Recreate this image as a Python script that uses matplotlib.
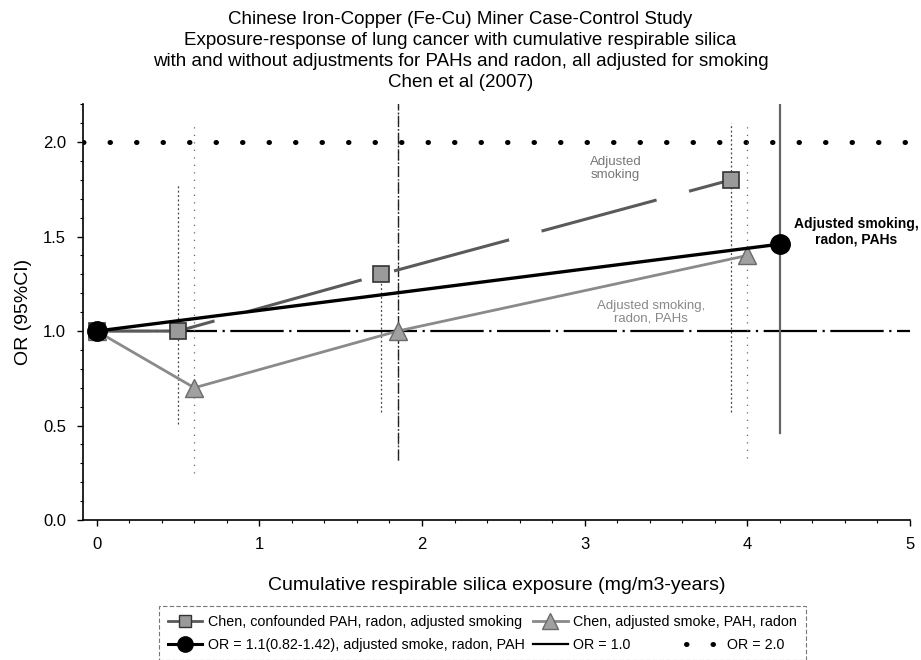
import matplotlib.pyplot as plt
from matplotlib.lines import Line2D
from matplotlib.ticker import MultipleLocator

plt.rcParams['font.family'] = ['Liberation Sans', 'DejaVu Sans']

# Chen, confounded PAH, radon, adjusted smoking
conf_x = [0, 0.5, 1.75, 3.9]
conf_y = [1.0, 1.0, 1.3, 1.8]
conf_lo = [None, 0.51, 0.57, 0.57]
conf_hi = [None, 1.78, 1.3, 2.1]

# Chen, adjusted smoke, PAH, radon
adj_x = [0, 0.6, 1.85, 4.0]
adj_y = [1.0, 0.7, 1.0, 1.4]
adj_lo = [None, 0.25, 0.32, 0.33]
adj_hi = [None, 2.1, 2.4, 2.1]

# OR = 1.1 (0.82-1.42), adjusted smoke, radon, PAH
or_x = [0, 4.2]
or_y = [1.0, 1.46]
or_lo = [None, 0.46]
or_hi = [None, 2.4]

title = ("Chinese Iron-Copper (Fe-Cu) Miner Case-Control Study\n"
         "Exposure-response of lung cancer with cumulative respirable silica\n"
         "with and without adjustments for PAHs and radon, all adjusted for smoking\n"
         "Chen et al (2007)")

fig = plt.figure(figsize=(9.21, 6.6), dpi=100)
ax = fig.add_axes([0.090, 0.212, 0.898, 0.630])
ax.set_xlim(-0.085, 5.0)
ax.set_ylim(0, 2.2)

# reference lines
ax.plot([-0.085, 5.0], [2.0, 2.0], color='black', lw=3.6,
        linestyle=(0, (0.1, 5.2)), dash_capstyle='round', zorder=2)
ax.plot([0, 5.0], [1.0, 1.0], color='black', lw=1.6,
        linestyle=(0, (24, 2.5, 1, 2.5)), zorder=2)

# confidence intervals
def ci(xs, lo, hi, **kw):
    for x, l, h in zip(xs, lo, hi):
        if l is not None:
            ax.plot([x, x], [l, h], **kw)

ci(conf_x, conf_lo, conf_hi, color='#444444', lw=0.9, linestyle=(0, (1.5, 2)))
ci(adj_x, adj_lo, adj_hi, color='#666666', lw=0.9, linestyle=(0, (1, 5)))
ax.plot([adj_x[2]] * 2, [adj_lo[2], adj_hi[2]], color='#222222', lw=1.0,
        linestyle=(0, (8, 1.5, 1, 1.5)))
ci(or_x, or_lo, or_hi, color='#666666', lw=1.6)

# series
ax.plot(conf_x, conf_y, color='#5a5a5a', lw=2.2, linestyle=(0, (39, 11)),
        marker='s', ms=11, mfc='#9a9a9a', mec='#333333', mew=1.2, zorder=4)
ax.plot(adj_x, adj_y, color='#8a8a8a', lw=2.0, marker='^', ms=13,
        mfc='#a0a0a0', mec='#6a6a6a', zorder=4)
ax.plot(or_x, or_y, color='black', lw=2.4, marker='o', ms=14,
        mfc='black', mec='black', zorder=5)

# annotations
ax.text(3.19, 1.86, "Adjusted\nsmoking", color='#777777', fontsize=9.5,
        ha='center', va='center', linespacing=1.1)
ax.text(3.41, 1.10, "Adjusted smoking,\nradon, PAHs", color='#888888',
        fontsize=9.5, ha='center', va='center', linespacing=1.1)
ax.text(4.67, 1.525, "Adjusted smoking,\nradon, PAHs", color='black',
        fontsize=10, fontweight='bold', ha='center', va='center',
        linespacing=1.1, clip_on=False)

fig.text(0.5, 1 - 11 / 660, title, fontsize=13.5, linespacing=1.32,
         ha='center', va='top')
ax.set_xlabel("Cumulative respirable silica exposure (mg/m3-years)",
              fontsize=14, labelpad=18)
ax.set_ylabel("OR (95%CI)", fontsize=14, labelpad=8)

ax.set_xticks([0, 1, 2, 3, 4, 5])
ax.set_yticks([0.0, 0.5, 1.0, 1.5, 2.0])
ax.set_yticklabels(['0.0', '0.5', '1.0', '1.5', '2.0'])
ax.xaxis.set_minor_locator(MultipleLocator(0.2))
ax.yaxis.set_minor_locator(MultipleLocator(0.1))
ax.tick_params(which='major', direction='out', length=4, width=1,
               labelsize=12, pad=8)
ax.tick_params(which='minor', direction='out', length=2.5, width=0.8)
for s in ['top', 'right']:
    ax.spines[s].set_visible(False)
for s in ['left', 'bottom']:
    ax.spines[s].set_linewidth(1.2)

handles = [
    Line2D([], [], color='#5a5a5a', lw=2.0, marker='s', ms=9,
           mfc='#9a9a9a', mec='#333333'),
    Line2D([], [], color='black', lw=2.2, marker='o', ms=11, mfc='black'),
    Line2D([], [], color='#8a8a8a', lw=2.0, marker='^', ms=11,
           mfc='#a0a0a0', mec='#6a6a6a'),
    Line2D([], [], color='black', lw=1.6),
]
labels = [
    "Chen, confounded PAH, radon, adjusted smoking",
    "OR = 1.1(0.82-1.42), adjusted smoke, radon, PAH",
    "Chen, adjusted smoke, PAH, radon",
    "OR = 1.0",
]
leg = fig.legend(handles, labels, loc='upper left',
                 bbox_to_anchor=(0.165, 0.092), ncol=2, fontsize=10.3,
                 frameon=True, fancybox=False, handlelength=2.4,
                 columnspacing=0.6, handletextpad=0.4, borderpad=0.6,
                 labelspacing=0.6)
frame = leg.get_frame()
frame.set_edgecolor('#555555')
frame.set_linestyle((0, (4, 2)))
frame.set_linewidth(0.8)

# OR = 2.0 entry sits after "OR = 1.0" on the second row
fig.canvas.draw()
bb = leg.get_texts()[3].get_window_extent()
W, H = fig.bbox.width, fig.bbox.height
dot_handle = Line2D([], [], color='black', lw=3.6, linestyle=(0, (0.1, 5.2)),
                    dash_capstyle='round')
fig.legend([dot_handle], ["OR = 2.0"], loc='center left',
           bbox_to_anchor=((bb.x1 + 55) / W, (bb.y0 + bb.y1) / 2 / H),
           frameon=False, fontsize=10.3, handlelength=2.4, handletextpad=0.5,
           borderpad=0, borderaxespad=0)

fig.savefig('out.png', dpi=100)
